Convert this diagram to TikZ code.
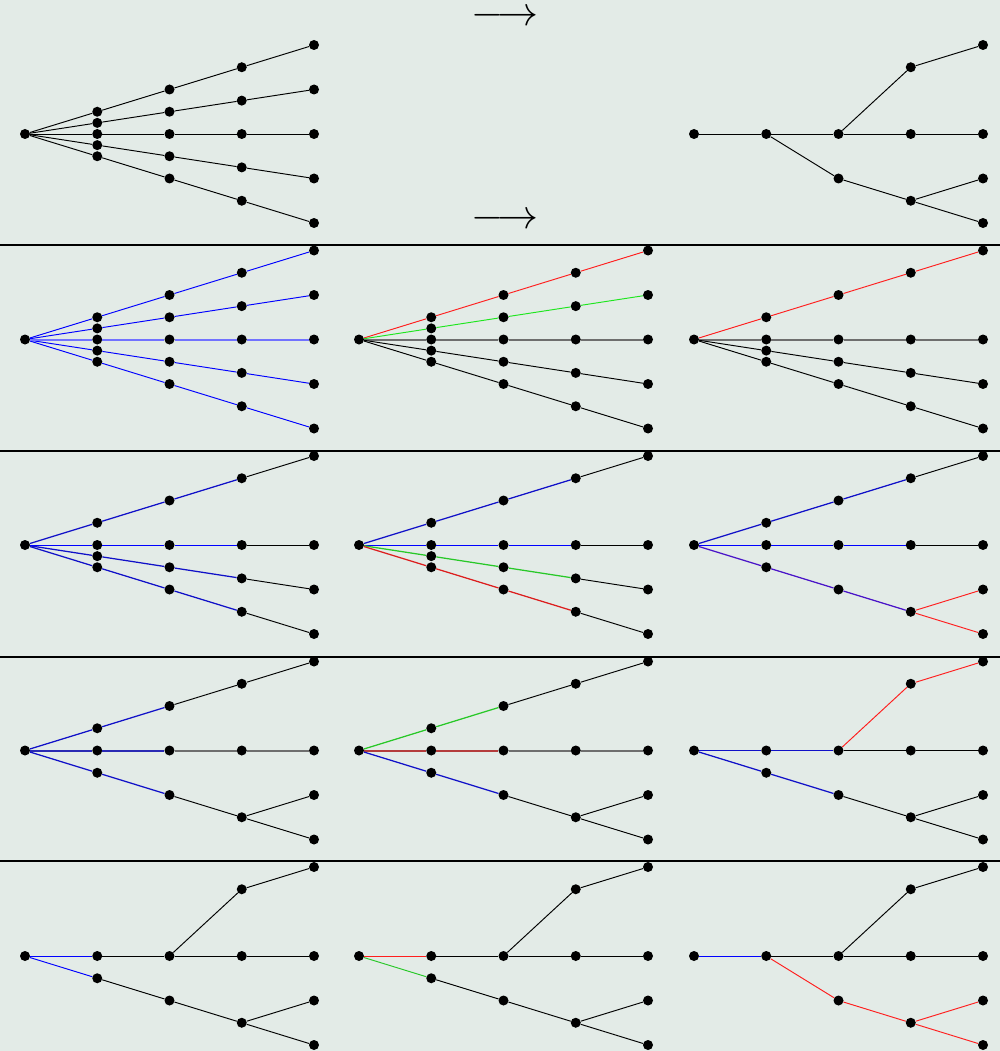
\documentclass[tikz,border=0pt]{standalone}
\usetikzlibrary{arrows.meta}
\definecolor{bgc}{HTML}{E3EBE7}
\definecolor{cblue}{HTML}{0000FF}
\definecolor{lblue}{HTML}{7272FF}
\definecolor{dblue}{HTML}{1010C8}
\definecolor{nblue}{HTML}{2A2AB4}
\definecolor{tgray}{HTML}{6E6E6E}
\definecolor{cred}{HTML}{FF1E1E}
\definecolor{cgreen}{HTML}{1EE61E}
\definecolor{dred}{HTML}{DC1E1E}
\definecolor{dgreen}{HTML}{28C828}
\definecolor{bred}{HTML}{B43C3C}
\definecolor{cpurple}{HTML}{4A14C8}
\newcommand\pts[2]{\foreach \nn/\xx/\yy in {#2}{\node[dot] (#1\nn) at (\xx,\yy) {};}}
\newcommand\fanpts[1]{\node[dot] (#1r) at (0,0) {};
  \foreach \pp/\ii in {a/-2,b/-1,c/0,d/1,e/2}{\foreach \kk in {1,...,4}{\node[dot] (#1\pp\kk) at (\kk,\ii*\kk) {};}}}
\newcommand\fourpts[1]{\node[dot] (#1r) at (0,0) {};
  \foreach \pp/\ii in {a/-2,c/0,d/1,e/2}{\foreach \kk in {1,...,4}{\node[dot] (#1\pp\kk) at (\kk,\ii*\kk) {};}}}
\begin{document}
\begin{tikzpicture}[x=72.25pt,y=-11.125pt,
  dot/.style={circle,fill=black,inner sep=0pt,minimum size=10pt},
  ed/.style={line width=0.95pt},
  th/.style={line width=1.25pt},
  wide/.style={line width=2pt},
  sep/.style={line width=2pt},
  arr/.style={inner sep=0pt,anchor=base}]
\fill[bgc] (0pt,0pt) rectangle (1000pt,-1051pt);
\useasboundingbox (0pt,0pt) rectangle (1000pt,-1051pt);
% separators
\foreach \s/\yy in {1/245,2/451,3/657,4/861}{
  \coordinate (sepL\s) at (0pt,-\yy pt);
  \coordinate (sepR\s) at (1000pt,-\yy pt);
  \draw[sep] (sepL\s) -- (sepR\s);}
% arrows
\node[arr] (arrTop) at (505pt,-25.5pt) {\scalebox{4.1}{$\longrightarrow$}};
\node[arr] (arrBot) at (505pt,-228pt) {\scalebox{4.1}{$\longrightarrow$}};
% ---------- row 1
\begin{scope}[shift={(25pt,-134pt)}]
\fanpts{T11}
\foreach \pp in {a,b,c,d,e}{\draw[ed] (T11r) -- (T11\pp1) -- (T11\pp2) -- (T11\pp3) -- (T11\pp4);}
\end{scope}
\begin{scope}[shift={(694pt,-134pt)}]
\pts{T13}{r/0/0,c1/1/0,c2/2/0,c3/3/0,c4/4/0,a3/3/-6,a4/4/-8,e2/2/4,e3/3/6,d4/4/4,e4/4/8}
\draw[ed] (T13r) -- (T13c1) -- (T13c2) -- (T13c3) -- (T13c4);
\draw[ed] (T13c2) -- (T13a3) -- (T13a4);
\draw[ed] (T13c1) -- (T13e2) -- (T13e3) -- (T13d4);
\draw[ed] (T13e3) -- (T13e4);
\end{scope}
% ---------- row 2
\begin{scope}[shift={(25pt,-339.5pt)}]
\fanpts{T21}
\foreach \pp in {a,b,d,e}{\draw[ed,cblue] (T21r) -- (T21\pp1) -- (T21\pp2) -- (T21\pp3) -- (T21\pp4);}
\draw[wide,lblue] (T21r) -- (T21c1) -- (T21c2) -- (T21c3) -- (T21c4);
\end{scope}
\begin{scope}[shift={(359pt,-339.5pt)}]
\fanpts{T22}
\draw[ed,cred] (T22r) -- (T22a1) -- (T22a2) -- (T22a3) -- (T22a4);
\draw[ed,cgreen] (T22r) -- (T22b1) -- (T22b2) -- (T22b3) -- (T22b4);
\draw[wide,tgray] (T22r) -- (T22c1) -- (T22c2) -- (T22c3) -- (T22c4);
\foreach \pp in {d,e}{\draw[ed] (T22r) -- (T22\pp1) -- (T22\pp2) -- (T22\pp3) -- (T22\pp4);}
\end{scope}
\begin{scope}[shift={(694pt,-339.5pt)}]
\fourpts{T23}
\draw[ed,cred] (T23r) -- (T23a1) -- (T23a2) -- (T23a3) -- (T23a4);
\draw[wide,tgray] (T23r) -- (T23c1) -- (T23c2) -- (T23c3) -- (T23c4);
\foreach \pp in {d,e}{\draw[ed] (T23r) -- (T23\pp1) -- (T23\pp2) -- (T23\pp3) -- (T23\pp4);}
\end{scope}
% ---------- row 3
\begin{scope}[shift={(25pt,-545pt)}]
\fourpts{T31}
\foreach \pp in {a,d,e}{\draw[th,dblue] (T31r) -- (T31\pp1) -- (T31\pp2) -- (T31\pp3);}
\draw[ed,cblue] (T31r) -- (T31c1) -- (T31c2) -- (T31c3);
\foreach \pp in {a,c,d,e}{\draw[ed] (T31\pp3) -- (T31\pp4);}
\end{scope}
\begin{scope}[shift={(359pt,-545pt)}]
\fourpts{T32}
\draw[th,dblue] (T32r) -- (T32a1) -- (T32a2) -- (T32a3);
\draw[ed,cblue] (T32r) -- (T32c1) -- (T32c2) -- (T32c3);
\draw[th,dgreen] (T32r) -- (T32d1) -- (T32d2) -- (T32d3);
\draw[th,dred] (T32r) -- (T32e1) -- (T32e2) -- (T32e3);
\foreach \pp in {a,c,d,e}{\draw[ed] (T32\pp3) -- (T32\pp4);}
\end{scope}
\begin{scope}[shift={(694pt,-545pt)}]
\pts{T33}{r/0/0,a1/1/-2,a2/2/-4,a3/3/-6,a4/4/-8,c1/1/0,c2/2/0,c3/3/0,c4/4/0,e1/1/2,e2/2/4,e3/3/6,d4/4/4,e4/4/8}
\draw[th,dblue] (T33r) -- (T33a1) -- (T33a2) -- (T33a3);
\draw[ed,cblue] (T33r) -- (T33c1) -- (T33c2) -- (T33c3);
\draw[th,cpurple] (T33r) -- (T33e1) -- (T33e2) -- (T33e3);
\draw[ed] (T33a3) -- (T33a4);
\draw[ed] (T33c3) -- (T33c4);
\draw[ed,cred] (T33e3) -- (T33d4);
\draw[ed,cred] (T33e3) -- (T33e4);
\end{scope}
% ---------- row 4
\begin{scope}[shift={(25pt,-750.5pt)}]
\pts{T41}{r/0/0,a1/1/-2,a2/2/-4,a3/3/-6,a4/4/-8,c1/1/0,c2/2/0,c3/3/0,c4/4/0,e1/1/2,e2/2/4,e3/3/6,d4/4/4,e4/4/8}
\draw[th,dblue] (T41r) -- (T41a1) -- (T41a2);
\draw[wide,nblue] (T41r) -- (T41c1) -- (T41c2);
\draw[th,dblue] (T41r) -- (T41e1) -- (T41e2);
\draw[ed] (T41a2) -- (T41a3) -- (T41a4);
\draw[wide,tgray] (T41c2) -- (T41c3) -- (T41c4);
\draw[ed] (T41e2) -- (T41e3) -- (T41d4);
\draw[ed] (T41e3) -- (T41e4);
\end{scope}
\begin{scope}[shift={(359pt,-750.5pt)}]
\pts{T42}{r/0/0,a1/1/-2,a2/2/-4,a3/3/-6,a4/4/-8,c1/1/0,c2/2/0,c3/3/0,c4/4/0,e1/1/2,e2/2/4,e3/3/6,d4/4/4,e4/4/8}
\draw[th,dgreen] (T42r) -- (T42a1) -- (T42a2);
\draw[wide,bred] (T42r) -- (T42c1) -- (T42c2);
\draw[th,dblue] (T42r) -- (T42e1) -- (T42e2);
\draw[ed] (T42a2) -- (T42a3) -- (T42a4);
\draw[wide,tgray] (T42c2) -- (T42c3) -- (T42c4);
\draw[ed] (T42e2) -- (T42e3) -- (T42d4);
\draw[ed] (T42e3) -- (T42e4);
\end{scope}
\begin{scope}[shift={(694pt,-750.5pt)}]
\pts{T43}{r/0/0,c1/1/0,c2/2/0,c3/3/0,c4/4/0,a3/3/-6,a4/4/-8,e1/1/2,e2/2/4,e3/3/6,d4/4/4,e4/4/8}
\draw[th,dblue] (T43r) -- (T43c1) -- (T43c2);
\draw[th,dblue] (T43r) -- (T43e1) -- (T43e2);
\draw[ed,cred] (T43c2) -- (T43a3) -- (T43a4);
\draw[ed] (T43c2) -- (T43c3) -- (T43c4);
\draw[ed] (T43e2) -- (T43e3) -- (T43d4);
\draw[ed] (T43e3) -- (T43e4);
\end{scope}
% ---------- row 5
\begin{scope}[shift={(25pt,-956pt)}]
\pts{T51}{r/0/0,c1/1/0,c2/2/0,c3/3/0,c4/4/0,a3/3/-6,a4/4/-8,e1/1/2,e2/2/4,e3/3/6,d4/4/4,e4/4/8}
\draw[ed,cblue] (T51r) -- (T51c1);
\draw[ed,cblue] (T51r) -- (T51e1);
\draw[ed] (T51c1) -- (T51c2) -- (T51c3) -- (T51c4);
\draw[ed] (T51c2) -- (T51a3) -- (T51a4);
\draw[ed] (T51e1) -- (T51e2) -- (T51e3) -- (T51d4);
\draw[ed] (T51e3) -- (T51e4);
\end{scope}
\begin{scope}[shift={(359pt,-956pt)}]
\pts{T52}{r/0/0,c1/1/0,c2/2/0,c3/3/0,c4/4/0,a3/3/-6,a4/4/-8,e1/1/2,e2/2/4,e3/3/6,d4/4/4,e4/4/8}
\draw[ed,cred] (T52r) -- (T52c1);
\draw[ed,dgreen] (T52r) -- (T52e1);
\draw[ed] (T52c1) -- (T52c2) -- (T52c3) -- (T52c4);
\draw[ed] (T52c2) -- (T52a3) -- (T52a4);
\draw[ed] (T52e1) -- (T52e2) -- (T52e3) -- (T52d4);
\draw[ed] (T52e3) -- (T52e4);
\end{scope}
\begin{scope}[shift={(694pt,-956pt)}]
\pts{T53}{r/0/0,c1/1/0,c2/2/0,c3/3/0,c4/4/0,a3/3/-6,a4/4/-8,e2/2/4,e3/3/6,d4/4/4,e4/4/8}
\draw[ed,cblue] (T53r) -- (T53c1);
\draw[ed] (T53c1) -- (T53c2) -- (T53c3) -- (T53c4);
\draw[ed] (T53c2) -- (T53a3) -- (T53a4);
\draw[ed,cred] (T53c1) -- (T53e2) -- (T53e3) -- (T53d4);
\draw[ed,cred] (T53e3) -- (T53e4);
\end{scope}
\end{tikzpicture}
\end{document}
